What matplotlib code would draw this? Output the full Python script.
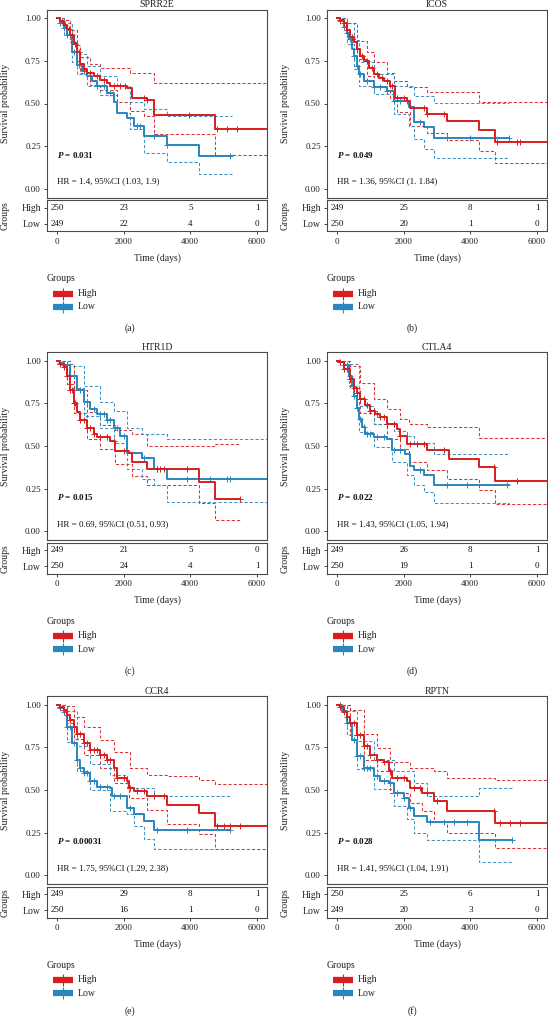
import matplotlib
matplotlib.use('Agg')
import matplotlib.pyplot as plt
from matplotlib.lines import Line2D

plt.rcParams['font.family'] = ['Liberation Serif', 'DejaVu Serif']
plt.rcParams['mathtext.fontset'] = 'custom'
plt.rcParams['mathtext.it'] = 'Liberation Serif:italic:bold'
plt.rcParams['mathtext.rm'] = 'Liberation Serif:bold'

W, H = 548, 1018
RED = '#d81e1e'
BLUE = '#2a86bf'
GREY = '#222222'

# ---- data ----
genes = ['SPRR2E', 'ICOS', 'HTR1D', 'CTLA4', 'CCR4', 'RPTN']
captions = ['(a)', '(b)', '(c)', '(d)', '(e)', '(f)']
p_values = ['0.031', '0.049', '0.015', '0.022', '0.00031', '0.028']
hr_labels = ['HR = 1.4, 95%CI (1.03, 1.9)',
             'HR = 1.36, 95%CI (1. 1.84)',
             'HR = 0.69, 95%CI (0.51, 0.93)',
             'HR = 1.43, 95%CI (1.05, 1.94)',
             'HR = 1.75, 95%CI (1.29, 2.38)',
             'HR = 1.41, 95%CI (1.04, 1.91)']
risk_times = [0, 2000, 4000, 6000]
risk_high = [[250, 23, 5, 1], [249, 25, 8, 1], [249, 21, 5, 0],
             [249, 26, 8, 1], [249, 29, 8, 1], [250, 25, 6, 1]]
risk_low = [[249, 22, 4, 0], [250, 20, 1, 0], [250, 24, 4, 1],
            [250, 19, 1, 0], [250, 16, 1, 0], [249, 20, 3, 0]]

# (time, survival) step points
sprr2e_high = [(0, 1.0), (100, 0.985), (200, 0.96), (300, 0.935), (400, 0.9), (500, 0.85), (600, 0.8),
               (700, 0.73), (800, 0.7), (900, 0.68), (1100, 0.66), (1300, 0.64), (1500, 0.62), (1600, 0.6),
               (2100, 0.59), (2250, 0.53), (2700, 0.52), (2900, 0.435), (4750, 0.35), (6300, 0.35)]
sprr2e_high_up = [(0, 1.0), (200, 0.99), (400, 0.93), (600, 0.84), (700, 0.77), (1000, 0.73), (1300, 0.71),
                  (2200, 0.68), (2900, 0.62), (6300, 0.62)]
sprr2e_high_lo = [(0, 1.0), (200, 0.93), (400, 0.86), (600, 0.75), (700, 0.68), (1000, 0.61), (1300, 0.58),
                  (1800, 0.51), (2200, 0.455), (2600, 0.425), (2900, 0.32), (4750, 0.2), (6300, 0.2)]
sprr2e_low = [(0, 1.0), (100, 0.97), (200, 0.94), (300, 0.9), (450, 0.8), (600, 0.725), (750, 0.69),
              (900, 0.66), (1050, 0.63), (1200, 0.6), (1500, 0.56), (1700, 0.51), (1800, 0.445),
              (2100, 0.415), (2300, 0.37), (2600, 0.31), (3300, 0.26), (4250, 0.195), (5250, 0.195)]
sprr2e_low_up = [(0, 1.0), (200, 0.97), (450, 0.86), (600, 0.79), (900, 0.72), (1300, 0.66), (1800, 0.6),
                 (2200, 0.51), (2600, 0.465), (3300, 0.425), (5250, 0.425)]
sprr2e_low_lo = [(0, 1.0), (200, 0.9), (450, 0.74), (600, 0.67), (900, 0.6), (1300, 0.55), (1800, 0.445),
                 (2200, 0.35), (2600, 0.21), (3300, 0.155), (4250, 0.087), (5250, 0.087)]
sprr2e_high_cens = [150, 250, 350, 450, 550, 650, 800, 1000, 1200, 1400, 1700, 1900, 2050, 2600, 2700,
                    3950, 4800, 5100, 5400]
sprr2e_low_cens = [100, 200, 300, 400, 500, 650, 800, 1000, 1200, 1400, 1600, 2400, 2500, 2900, 3300, 5200]

icos_high = [(0, 1.0), (100, 0.99), (200, 0.97), (300, 0.93), (400, 0.89), (500, 0.86), (600, 0.82),
             (700, 0.78), (800, 0.75), (950, 0.71), (1100, 0.67), (1250, 0.65), (1400, 0.63), (1600, 0.6),
             (1750, 0.535), (2100, 0.515), (2200, 0.475), (2700, 0.44), (3300, 0.395), (4250, 0.345),
             (4750, 0.275), (6300, 0.275)]
icos_high_up = [(0, 1.0), (300, 0.97), (600, 0.865), (900, 0.8), (1100, 0.74), (1500, 0.68), (1700, 0.63),
                (2100, 0.595), (2700, 0.565), (4250, 0.51), (6300, 0.51)]
icos_high_lo = [(0, 1.0), (300, 0.88), (600, 0.76), (900, 0.66), (1100, 0.6), (1600, 0.535), (1800, 0.45),
                (2200, 0.37), (2700, 0.33), (3300, 0.285), (4250, 0.225), (4750, 0.15), (6300, 0.15)]
icos_low = [(0, 1.0), (100, 0.98), (200, 0.95), (300, 0.91), (350, 0.875), (450, 0.82), (500, 0.78),
            (600, 0.72), (650, 0.67), (800, 0.63), (1100, 0.595), (1500, 0.575), (1700, 0.515),
            (2150, 0.48), (2300, 0.39), (2600, 0.36), (2900, 0.3), (5150, 0.3)]
icos_low_up = [(0, 1.0), (300, 0.97), (500, 0.87), (650, 0.74), (1100, 0.67), (1700, 0.605), (2300, 0.545),
               (2900, 0.505), (5150, 0.505)]
icos_low_lo = [(0, 1.0), (300, 0.85), (500, 0.7), (650, 0.6), (1100, 0.555), (1700, 0.44), (2150, 0.37),
               (2300, 0.295), (2600, 0.235), (2900, 0.18), (5150, 0.18)]
icos_high_cens = [100, 200, 300, 450, 600, 750, 900, 1050, 1200, 1350, 1500, 1650, 1800, 2000, 2600, 2700,
                  3200, 4800, 5400, 5500]
icos_low_cens = [100, 200, 300, 400, 500, 600, 700, 900, 1100, 1300, 1500, 1700, 1900, 2100, 2500, 3300,
                 4000, 5150]

htr1d_high = [(0, 1.0), (100, 0.98), (200, 0.965), (300, 0.91), (400, 0.83), (500, 0.75), (600, 0.7),
              (700, 0.655), (900, 0.605), (1100, 0.57), (1200, 0.55), (1600, 0.53), (1750, 0.47),
              (2150, 0.46), (2250, 0.405), (2700, 0.365), (4250, 0.29), (4750, 0.19), (5500, 0.19)]
htr1d_high_up = [(0, 1.0), (300, 0.98), (500, 0.83), (900, 0.7), (1300, 0.625), (1750, 0.595), (2250, 0.57),
                 (2700, 0.5), (4750, 0.51), (5500, 0.51)]
htr1d_high_lo = [(0, 1.0), (300, 0.86), (500, 0.695), (900, 0.54), (1300, 0.48), (1750, 0.395),
                 (2250, 0.325), (2700, 0.27), (4250, 0.165), (4750, 0.065), (5500, 0.065)]
htr1d_low = [(0, 1.0), (100, 0.985), (200, 0.975), (400, 0.91), (600, 0.83), (800, 0.76), (1000, 0.715),
             (1200, 0.69), (1500, 0.655), (1700, 0.605), (1900, 0.56), (2100, 0.46), (2550, 0.43),
             (2900, 0.365), (3300, 0.305), (6300, 0.305)]
htr1d_low_up = [(0, 1.0), (400, 0.97), (800, 0.85), (1300, 0.76), (1700, 0.705), (2100, 0.605), (2550, 0.57),
                (3300, 0.54), (6300, 0.54)]
htr1d_low_lo = [(0, 1.0), (400, 0.84), (800, 0.675), (1300, 0.605), (1700, 0.52), (2100, 0.365),
                (2550, 0.305), (2900, 0.27), (3300, 0.17), (6300, 0.17)]
htr1d_high_cens = [100, 200, 300, 350, 400, 450, 500, 550, 700, 800, 900, 1000, 1100, 1300, 1500, 1700,
                   2000, 3000, 3100, 3200, 3900, 5500]
htr1d_low_cens = [100, 200, 300, 500, 700, 900, 1100, 1300, 1400, 1500, 1600, 1800, 2000, 2600, 3000,
                  3900, 4600, 5100, 5200]

ctla4_high = [(0, 1.0), (100, 0.99), (200, 0.95), (400, 0.89), (500, 0.84), (600, 0.81), (700, 0.775),
              (850, 0.74), (1000, 0.705), (1150, 0.685), (1300, 0.67), (1500, 0.63), (1800, 0.6),
              (1900, 0.56), (2100, 0.51), (2700, 0.475), (3350, 0.425), (4250, 0.375), (4750, 0.295),
              (6300, 0.295)]
ctla4_high_up = [(0, 1.0), (400, 0.97), (700, 0.87), (1100, 0.775), (1500, 0.715), (1900, 0.66),
                 (2150, 0.63), (2700, 0.61), (4250, 0.545), (6300, 0.545)]
ctla4_high_lo = [(0, 1.0), (400, 0.84), (700, 0.695), (1100, 0.63), (1500, 0.54), (1900, 0.485),
                 (2150, 0.405), (2700, 0.36), (3300, 0.305), (4250, 0.24), (4750, 0.16), (6300, 0.16)]
ctla4_low = [(0, 1.0), (100, 0.99), (200, 0.975), (350, 0.91), (450, 0.85), (500, 0.79), (600, 0.72),
             (650, 0.66), (750, 0.61), (850, 0.57), (1100, 0.55), (1500, 0.54), (1650, 0.475),
             (2050, 0.455), (2200, 0.385), (2300, 0.36), (2600, 0.33), (2900, 0.27), (5150, 0.27)]
ctla4_low_up = [(0, 1.0), (350, 0.98), (650, 0.735), (1100, 0.63), (1700, 0.59), (2100, 0.56), (2300, 0.52),
                (2900, 0.455), (5150, 0.455)]
ctla4_low_lo = [(0, 1.0), (350, 0.85), (650, 0.58), (1100, 0.495), (1650, 0.405), (2100, 0.33),
                (2300, 0.27), (2600, 0.23), (2900, 0.165), (5150, 0.165)]
ctla4_high_cens = [100, 200, 300, 400, 500, 600, 700, 800, 900, 1000, 1100, 1200, 1300, 1400, 1500, 1700,
                   1900, 2200, 2400, 2600, 3200, 4700, 5400]
ctla4_low_cens = [100, 200, 300, 400, 500, 600, 700, 800, 900, 1000, 1200, 1400, 1700, 1900, 2500, 3300,
                  3900, 5100]

ccr4_high = [(0, 1.0), (100, 0.985), (200, 0.967), (300, 0.94), (400, 0.91), (500, 0.87), (600, 0.83),
             (800, 0.775), (1000, 0.735), (1300, 0.705), (1500, 0.675), (1700, 0.63), (1800, 0.57),
             (2100, 0.55), (2150, 0.51), (2300, 0.495), (2700, 0.465), (3300, 0.415), (4250, 0.365),
             (4750, 0.29), (6300, 0.29)]
ccr4_high_up = [(0, 1.0), (300, 0.99), (500, 0.93), (800, 0.87), (1300, 0.79), (1700, 0.725), (2200, 0.63),
                (2700, 0.59), (3300, 0.58), (4250, 0.56), (4750, 0.535), (6300, 0.535)]
ccr4_high_lo = [(0, 1.0), (300, 0.89), (500, 0.8), (800, 0.705), (1300, 0.63), (1700, 0.54), (2150, 0.455),
                (2700, 0.385), (3300, 0.3), (4250, 0.24), (4750, 0.155), (6300, 0.155)]
ccr4_low = [(0, 1.0), (100, 0.98), (200, 0.957), (300, 0.87), (450, 0.775), (600, 0.675), (700, 0.63),
            (800, 0.6), (1000, 0.55), (1200, 0.52), (1600, 0.51), (1650, 0.465), (2100, 0.395),
            (2300, 0.36), (2600, 0.32), (2900, 0.265), (5200, 0.265)]
ccr4_low_up = [(0, 1.0), (300, 0.96), (600, 0.755), (1000, 0.65), (1600, 0.59), (2100, 0.51),
               (2900, 0.465), (5200, 0.465)]
ccr4_low_lo = [(0, 1.0), (300, 0.78), (600, 0.61), (1000, 0.5), (1600, 0.38), (2100, 0.36), (2300, 0.29),
               (2600, 0.213), (2900, 0.155), (5200, 0.155)]
ccr4_high_cens = [100, 200, 300, 400, 500, 600, 700, 800, 900, 1000, 1100, 1200, 1300, 1400, 1500, 1600,
                  1800, 2000, 2200, 2400, 2600, 2900, 3200, 4800, 5000, 5200, 5500]
ccr4_low_cens = [100, 200, 300, 400, 500, 600, 700, 800, 900, 1000, 1100, 1300, 1500, 1700, 1900, 2200,
                 3000, 3900, 5200]

rptn_high = [(0, 1.0), (100, 0.985), (200, 0.957), (300, 0.93), (400, 0.89), (600, 0.82), (800, 0.755),
             (1000, 0.705), (1200, 0.675), (1400, 0.665), (1550, 0.61), (1650, 0.57), (2100, 0.55),
             (2200, 0.51), (2550, 0.485), (2900, 0.435), (3300, 0.38), (4750, 0.305), (6300, 0.305)]
rptn_high_up = [(0, 1.0), (400, 0.97), (800, 0.83), (1200, 0.745), (1600, 0.665), (2200, 0.63), (2900, 0.61),
                (3300, 0.57), (4750, 0.56), (6300, 0.56)]
rptn_high_lo = [(0, 1.0), (400, 0.82), (800, 0.675), (1200, 0.61), (1600, 0.485), (2200, 0.425),
                (2550, 0.375), (2900, 0.31), (3300, 0.25), (4750, 0.16), (6300, 0.16)]
rptn_low = [(0, 1.0), (150, 0.965), (300, 0.89), (450, 0.79), (600, 0.7), (800, 0.63), (1100, 0.58),
            (1300, 0.55), (1550, 0.54), (1700, 0.485), (2000, 0.455), (2150, 0.395), (2300, 0.35),
            (2700, 0.31), (4250, 0.205), (5250, 0.205)]
rptn_low_up = [(0, 1.0), (300, 0.96), (600, 0.785), (1100, 0.675), (1700, 0.61), (2300, 0.54),
               (2700, 0.465), (4250, 0.51), (5250, 0.51)]
rptn_low_lo = [(0, 1.0), (300, 0.82), (600, 0.62), (1100, 0.505), (1700, 0.405), (2100, 0.33), (2300, 0.25),
               (2700, 0.21), (4250, 0.08), (5250, 0.08)]
rptn_high_cens = [100, 200, 300, 400, 500, 600, 700, 800, 900, 1000, 1200, 1400, 1600, 1800, 2000, 2300,
                  2500, 2700, 3000, 4700, 4900, 5200, 5500]
rptn_low_cens = [100, 200, 300, 400, 500, 600, 700, 800, 900, 1000, 1200, 1400, 1600, 1800, 2000, 2200,
                 2800, 3200, 3500, 3900, 5250]

curves = [
    (sprr2e_high, sprr2e_high_up, sprr2e_high_lo, sprr2e_high_cens,
     sprr2e_low, sprr2e_low_up, sprr2e_low_lo, sprr2e_low_cens),
    (icos_high, icos_high_up, icos_high_lo, icos_high_cens,
     icos_low, icos_low_up, icos_low_lo, icos_low_cens),
    (htr1d_high, htr1d_high_up, htr1d_high_lo, htr1d_high_cens,
     htr1d_low, htr1d_low_up, htr1d_low_lo, htr1d_low_cens),
    (ctla4_high, ctla4_high_up, ctla4_high_lo, ctla4_high_cens,
     ctla4_low, ctla4_low_up, ctla4_low_lo, ctla4_low_cens),
    (ccr4_high, ccr4_high_up, ccr4_high_lo, ccr4_high_cens,
     ccr4_low, ccr4_low_up, ccr4_low_lo, ccr4_low_cens),
    (rptn_high, rptn_high_up, rptn_high_lo, rptn_high_cens,
     rptn_low, rptn_low_up, rptn_low_lo, rptn_low_cens),
]

# ---- layout (pixels) ----
col_left = [47, 327]
row_top = [9.5, 352, 696]
main_w, main_h = 220, 188
tab_gap, tab_h = 2.5, 31.5
caption_x = [130, 412]


def rect(x, y, w, h):
    return [x / W, 1 - (y + h) / H, w / W, h / H]


def fxy(x, y):
    return x / W, 1 - y / H


def value_at(curve, t):
    v = curve[0][1]
    for ct, cs in curve:
        if ct <= t:
            v = cs
    return v


def draw_step(ax, curve, color, lw, ls='-', alpha=1.0):
    ax.step([p[0] for p in curve], [p[1] for p in curve], where='post',
            color=color, lw=lw, ls=ls, alpha=alpha)


def style_axes(ax):
    for sp in ax.spines.values():
        sp.set_color('#4a4a4a')
        sp.set_linewidth(0.8)
    ax.tick_params(colors=GREY, labelsize=6.5, length=2.5, width=0.6, pad=2)


fig = plt.figure(figsize=(W / 100, H / 100), dpi=100)

for i, gene in enumerate(genes):
    col, row = i % 2, i // 2
    x0, y0 = col_left[col], row_top[row]
    hi, hi_up, hi_lo, hi_c, lo, lo_up, lo_lo, lo_c = curves[i]

    ax = fig.add_axes(rect(x0, y0, main_w, main_h))
    style_axes(ax)
    for c, color in [(hi_up, RED), (hi_lo, RED), (lo_up, BLUE), (lo_lo, BLUE)]:
        draw_step(ax, c, color, 0.75, ls=(0, (3, 2)), alpha=0.9)
    for c, cens, color in [(lo, lo_c, BLUE), (hi, hi_c, RED)]:
        draw_step(ax, c, color, 1.4)
        ax.plot(cens, [value_at(c, t) for t in cens], ls='none', marker='+',
                ms=4, mew=0.7, color=color)
    ax.set_xlim(-300, 6300)
    ax.set_ylim(-0.05, 1.05)
    ax.set_yticks([0, 0.25, 0.5, 0.75, 1.0])
    ax.set_yticklabels(['0.00', '0.25', '0.50', '0.75', '1.00'])
    ax.set_xticks([])
    ax.set_ylabel('Survival probability', fontsize=7, color=GREY)
    ax.yaxis.set_label_coords(-0.17, 0.5)
    ax.set_title(gene, fontsize=7, color=GREY, pad=1.5)
    ax.text(0, 0.2, '$P$ = ' + p_values[i], fontsize=6.5, fontweight='bold',
            ha='left', va='center', color='#111111')
    ax.text(0, 0.045, hr_labels[i], fontsize=6.5, ha='left', va='center', color='#111111')

    # risk table
    ty = y0 + main_h + tab_gap
    tab = fig.add_axes(rect(x0, ty, main_w, tab_h))
    style_axes(tab)
    tab.set_xlim(-300, 6300)
    tab.set_ylim(0.5, 2.5)
    tab.set_yticks([2, 1])
    tab.set_yticklabels(['High', 'Low'])
    tab.set_xticks(risk_times)
    tab.tick_params(axis='y', labelsize=7)
    for t, nh, nl in zip(risk_times, risk_high[i], risk_low[i]):
        tab.text(t, 2, str(nh), ha='center', va='center', fontsize=6.5, color='#111111')
        tab.text(t, 1, str(nl), ha='center', va='center', fontsize=6.5, color='#111111')
    tab.set_ylabel('Groups', fontsize=7, color=GREY)
    tab.yaxis.set_label_coords(-0.17, 0.5)
    tab.set_xlabel('Time (days)', fontsize=7, color=GREY)
    tab.xaxis.set_label_coords(0.5, -0.68)

    # legend
    tb = ty + tab_h
    fig.text(*fxy(x0, tb + 47), 'Groups', fontsize=7, color=GREY, ha='left', va='center')
    for k, (name, color) in enumerate([('High', RED), ('Low', BLUE)]):
        yy = tb + 62 + 13 * k
        xa, ya = fxy(x0 + 6, yy)
        xb, _ = fxy(x0 + 26, yy)
        fig.add_artist(Line2D([xa, xb], [ya, ya], transform=fig.transFigure,
                              color=color, lw=4.5, solid_capstyle='butt'))
        xm, _ = fxy(x0 + 16, yy)
        fig.add_artist(Line2D([xm], [ya], transform=fig.transFigure, marker='+',
                              ms=8, mew=0.8, color=color))
        fig.text(*fxy(x0 + 31, yy), name, fontsize=7, color=GREY, ha='left', va='center')

    cap_y = min(tb + 97, H - 7)
    fig.text(*fxy(caption_x[col], cap_y), captions[i], fontsize=7, color=GREY,
             ha='center', va='center')

fig.savefig('out.png', dpi=100)
